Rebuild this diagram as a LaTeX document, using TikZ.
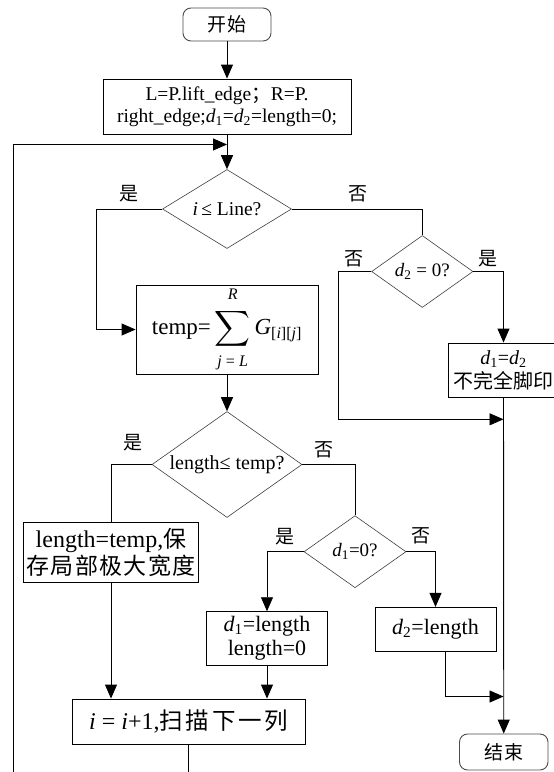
\documentclass[tikz,border=0pt]{standalone}
\usepackage{fontspec}
\usepackage{amsmath}
\setmainfont{Liberation Serif}
\newfontfamily\cjk{Noto Sans CJK SC}
\newfontfamily\cjks[LetterSpace=6]{Noto Sans CJK SC}
\newfontfamily\cjkw[LetterSpace=12]{Noto Sans CJK SC}
\usetikzlibrary{shapes.geometric,arrows.meta}
\newcommand\fs[2]{\fontsize{#1}{#2}\selectfont}
\newcommand\di[1]{\textit{d}\textsubscript{#1}}
\tikzset{
  box/.style={draw, line width=0.9pt, inner sep=0pt, align=center},
  term/.style={box, rounded corners=8pt, draw=black!70},
  dia/.style={diamond, draw=black!75, line width=0.6pt, inner sep=0pt},
  txt/.style={inner sep=0pt, align=center},
  lab/.style={inner sep=0pt, font=\cjk\fs{19}{21}},
  conn/.style={line width=0.9pt},
  arr/.style={conn, -{Triangle[length=14pt,width=12pt]}},
}
\begin{document}
\begin{tikzpicture}[x=1pt,y=-1pt]
\useasboundingbox[fill=white] (0,0) rectangle (554,772);

% terminals and boxes
\node[term, minimum width=88pt, minimum height=33pt, font=\fs{19}{21}] (start) at (227,24.5) {\cjks 开始};
\node[box, minimum width=248pt, minimum height=55pt, font=\fs{19.5}{21.6}] (init) at (227,106.5)
  {L=P.lift\_edge{\cjk ；}R=P.\\right\_edge;\di{1}=\di{2}=length=0;};
\node[dia, minimum width=129pt, minimum height=79pt] (d1) at (227,209) {};
\node[txt, font=\fs{19.5}{21}] (d1t) at (227,209) {\textit{i}\,≤ Line?};
\node[box, minimum width=182pt, minimum height=89pt, font=\fs{23}{25}] (temp) at (227,329.5)
  {temp=\,$\displaystyle\sum_{\text{\raisebox{-3pt}{\textit{j} = \textit{L}}}}^{\text{\raisebox{4pt}{\textit{R}}}}$\,\textit{G}\textsubscript{[\textit{i}][\textit{j}]}};
\node[dia, minimum width=101.4pt, minimum height=72pt] (d2) at (422.3,271.5) {};
\node[txt, font=\fs{19}{21}] (d2t) at (422.3,271.5) {\di{2} = 0?};
\node[box, minimum width=111pt, minimum height=54pt, font=\fs{20}{24}] (fp) at (503.5,370)
  {\di{1}=\di{2}\\{\cjk 不完全脚印}};
\node[dia, minimum width=150pt, minimum height=106pt] (d3) at (227,464.5) {};
\node[txt, font=\fs{20}{21}] (d3t) at (227,464.5) {length≤ temp?};
\node[box, minimum width=175pt, minimum height=60.5pt, font=\fs{24}{27}] (lt) at (111,552.25)
  {length=temp,{\fs{23}{27}\cjks 保}\\{\fs{23}{27}\cjks 存局部极大宽度}};
\node[dia, minimum width=102pt, minimum height=72pt] (d4) at (355,551.7) {};
\node[txt, font=\fs{19}{21}] (d4t) at (355,551.7) {\di{1}=0?};
\node[box, minimum width=121pt, minimum height=53.6pt, font=\fs{22}{24}] (bl) at (267,638.5)
  {\di{1}=length\\length=0};
\node[box, minimum width=121pt, minimum height=43.7pt, font=\fs{22}{24}] (bd2) at (435.5,629.2)
  {\di{2}=length};
\node[box, minimum width=232.5pt, minimum height=45pt, font=\fs{24}{26}] (inc) at (188.75,721.5)
  {\textit{i} = \textit{i}+1,{\fs{23.5}{26}\cjkw 扫描下一列}};
\node[term, minimum width=88.5pt, minimum height=36pt, font=\fs{19}{21}] (stop) at (503.75,752) {\cjks 结束};

% branch labels
\node[lab] (y1) at (129,194) {是};
\node[lab] (n1) at (357.6,194) {否};
\node[lab] (n2) at (354,259) {否};
\node[lab] (y2) at (488,259) {是};
\node[lab] (y3) at (133,443) {是};
\node[lab] (n3) at (324.4,449.5) {否};
\node[lab] (y4) at (285,537) {是};
\node[lab] (n4) at (420.5,536) {否};

% helper coordinates
\coordinate (lb) at (13.3,790);
\coordinate (ltop) at (13.3,144.5);
\coordinate (j1) at (503.5,419.3);
\coordinate (j2) at (503.5,696.5);
\coordinate (ib) at (188.75,790);

% connectors
\draw[arr] (start) -- (init);
\draw[arr] (init) -- (d1);
\draw[arr] (lb) -- (ltop) -- (ltop -| init.south);
\draw[arr] (d1.west) -- ++(-66,0) |- (temp.west);
\draw[conn] (d1.east) -| (d2.north);
\draw[arr] (d2.east) -| (fp.north);
\draw[arr] (d2.west) -- ++(-33.1,0) |- (j1);
\draw[arr] (fp) -- (stop);
\draw[arr] (temp) -- (d3);
\draw[conn] (d3.west) -| (lt.north);
\draw[conn] (d3.east) -| (d4.north);
\draw[arr] (d4.west) -| (bl.north);
\draw[arr] (d4.east) -| (bd2.north);
\draw[arr] (lt.south) -- (lt.south |- inc.north);
\draw[arr] (bl.south) -- (bl.south |- inc.north);
\draw[arr] ([xshift=10pt]bd2.south) |- (j2);
\draw[conn] (inc.south) -- (ib);
\end{tikzpicture}
\end{document}
